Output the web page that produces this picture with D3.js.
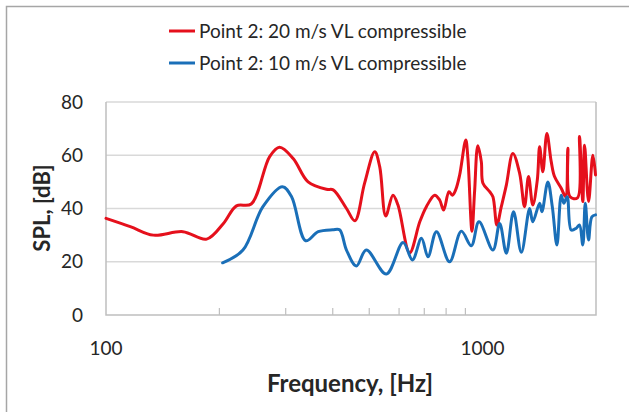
<!DOCTYPE html>
<html>
<head>
<meta charset="utf-8">
<script src="https://cdn.jsdelivr.net/npm/d3@7"></script>
<style>
	body { margin: 0; background: #fff; }
	svg { display: block; font-family: Lato, "Noto Sans", sans-serif; }
</style>
</head>
<body>
<svg width="629" height="412"></svg>
<script>
// series (frequency in Hz, SPL in dB)
var redFreq = [100, 116, 133.5, 160, 185, 205, 222, 243, 272, 289, 314, 344, 385, 401, 435, 458, 486, 517, 533, 553, 578, 596, 640, 681, 709, 746, 769, 788, 814, 831, 848, 869, 902, 914, 937, 952, 971, 992, 1002, 1044, 1065, 1091, 1121, 1156, 1203, 1254, 1292, 1324, 1359, 1397, 1417, 1445, 1481, 1521, 1552, 1617, 1660, 1684, 1707, 1786, 1808, 1845, 1865, 1911, 1962, 1994];
var redSpl = [36.3, 33.2, 30, 31.3, 28.5, 34.4, 41, 41.7, 59.5, 63, 58.8, 50, 47.2, 47, 40, 35.4, 49.5, 61.3, 55.7, 37.2, 45, 41.3, 23.4, 35, 40.7, 45, 43.2, 39.4, 46.3, 45, 47, 52.6, 65.7, 58.8, 31.5, 46.3, 63.6, 57.6, 49.5, 46.3, 44.4, 33.8, 40.7, 48.8, 60.7, 53.2, 40.7, 52, 41.3, 50.7, 63.2, 53.8, 68.2, 57.6, 52, 47.6, 44.5, 62.6, 44.4, 44, 67, 42.6, 63.8, 42.6, 60, 52.6];

var blueFreq = [204, 231, 261, 294, 311, 339, 366, 400, 417, 435, 462, 491, 555, 615, 651, 688, 716, 754, 817, 878, 933, 978, 1065, 1110, 1156, 1208, 1267, 1333, 1359, 1417, 1437, 1490, 1531, 1575, 1617, 1643, 1677, 1719, 1773, 1808, 1845, 1873, 1911, 1950, 1994];
var blueSpl = [19.6, 24.4, 40.7, 48.2, 44.4, 27.9, 31.3, 32, 32, 24.4, 18.4, 24.4, 15.4, 27.2, 20.7, 28.8, 21.9, 31.3, 20, 31.5, 26, 35, 24.4, 34.4, 23.2, 38.8, 23.6, 40, 35, 42, 38.8, 50, 40.7, 26.3, 45, 42, 44.4, 31.9, 32.6, 33.8, 26.3, 42, 28.2, 36.9, 37.6];

var seriesNames = ['Point 2: 20 m/s VL compressible', 'Point 2: 10 m/s VL compressible'];
var seriesColors = ['#e5101c', '#1a6fb8'];
var yTicks = [0, 20, 40, 60, 80];
var xLabels = [100, 1000];
var xMinor = [200, 300, 400, 500, 600, 700, 800, 900];

var svg = d3.select('svg'),
	margin = {top: 102, right: 33, bottom: 97, left: 106},
	width = 629 - margin.left - margin.right,
	height = 412 - margin.top - margin.bottom;

// outer chart frame (only left/top show in the picture)
svg.append('path')
	.attr('d', 'M6.5,412 V6.5 H629')
	.attr('fill', 'none')
	.attr('stroke', '#a6a6a6')
	.attr('stroke-width', 1.5);

var g = svg.append('g').attr('transform', 'translate(' + margin.left + ',' + margin.top + ')');

var x = d3.scaleLog().domain([100, 2000]).range([0, width]);
var y = d3.scaleLinear().domain([0, 80]).range([height, 0]);

// gridlines
g.append('g')
	.selectAll('line')
	.data(yTicks.slice(1))
	.enter().append('line')
	.attr('x1', 0).attr('x2', width)
	.attr('y1', function(d) { return y(d); })
	.attr('y2', function(d) { return y(d); })
	.attr('stroke', '#d9d9d9')
	.attr('stroke-width', 1.5);

// plot area border
g.append('path')
	.attr('d', 'M0,0 V' + height + ' H' + width + ' V0')
	.attr('fill', 'none')
	.attr('stroke', '#bfbfbf')
	.attr('stroke-width', 1.5);

// minor ticks, inside
g.append('g')
	.selectAll('line')
	.data(xMinor)
	.enter().append('line')
	.attr('x1', function(d) { return x(d); })
	.attr('x2', function(d) { return x(d); })
	.attr('y1', height).attr('y2', height - 7)
	.attr('stroke', '#bfbfbf')
	.attr('stroke-width', 1.2);

// y tick labels
g.append('g')
	.selectAll('text')
	.data(yTicks)
	.enter().append('text')
	.attr('x', -23)
	.attr('y', function(d) { return y(d); })
	.attr('dy', '0.35em')
	.attr('text-anchor', 'end')
	.attr('fill', '#262626')
	.style('font-size', '19px')
	.text(function(d) { return d; });

// x tick labels
g.append('g')
	.selectAll('text')
	.data(xLabels)
	.enter().append('text')
	.attr('x', function(d) { return x(d); })
	.attr('y', height + 40)
	.attr('text-anchor', 'middle')
	.attr('fill', '#262626')
	.style('font-size', '19px')
	.text(function(d) { return d; });

// axis titles
svg.append('text')
	.attr('x', 350).attr('y', 392)
	.attr('text-anchor', 'middle')
	.attr('fill', '#262626')
	.style('font-size', '24px')
	.style('font-weight', 'bold')
	.text('Frequency, [Hz]');

svg.append('text')
	.attr('transform', 'translate(50,208) rotate(-90)')
	.attr('text-anchor', 'middle')
	.attr('fill', '#262626')
	.style('font-size', '22px')
	.style('font-weight', 'bold')
	.text('SPL, [dB]');

// lines
var line = d3.line()
	.x(function(d) { return x(d[0]); })
	.y(function(d) { return y(d[1]); })
	.curve(d3.curveCatmullRom.alpha(0.5));

var series = [d3.zip(redFreq, redSpl), d3.zip(blueFreq, blueSpl)];
series.forEach(function(data, i) {
	g.append('path')
		.datum(data)
		.attr('fill', 'none')
		.attr('stroke', seriesColors[i])
		.attr('stroke-width', 3)
		.attr('stroke-linejoin', 'round')
		.attr('stroke-linecap', 'round')
		.attr('d', line);
});

// legend
var legend = svg.append('g')
	.selectAll('g')
	.data(seriesNames)
	.enter().append('g')
	.attr('transform', function(d, i) { return 'translate(169,' + (31 + i * 32) + ')'; });

legend.append('line')
	.attr('x1', 0).attr('x2', 26)
	.attr('stroke', function(d, i) { return seriesColors[i]; })
	.attr('stroke-width', 3);

legend.append('text')
	.attr('x', 30)
	.attr('dy', '0.35em')
	.attr('fill', '#262626')
	.style('font-size', '19px')
	.text(function(d) { return d; });
</script>
</body>
</html>
